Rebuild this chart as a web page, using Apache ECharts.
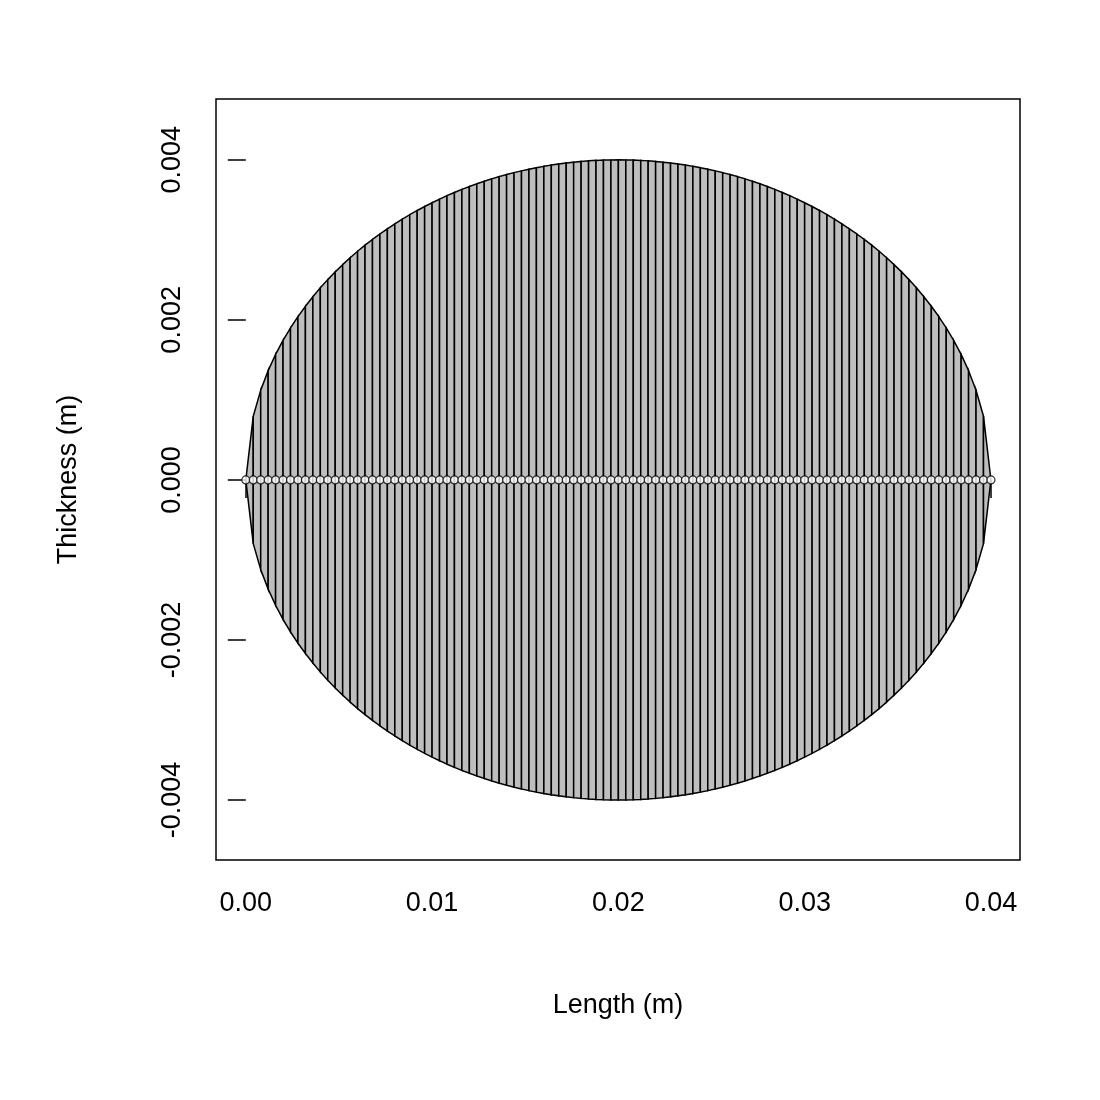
<!DOCTYPE html>
<html><head><meta charset="utf-8">
<script src="https://cdn.jsdelivr.net/npm/echarts@6/dist/echarts.min.js"></script>
<style>html,body{margin:0;background:#fff}#c{width:1100px;height:1100px}</style>
</head><body><div id="c"></div>
<script>
// half thickness (mm) for segment nodes k = 0..50 from center outwards
const halfFromCenter = [4.000,3.999,3.997,3.993,3.987,3.980,3.971,3.961,3.948,3.935,3.919,3.902,3.883,3.862,3.840,3.816,3.790,3.762,3.732,3.700,3.666,3.630,3.592,3.552,3.509,3.464,3.417,3.367,3.314,3.258,3.200,3.138,3.073,3.005,2.933,2.857,2.776,2.690,2.600,2.503,2.400,2.289,2.170,2.041,1.900,1.744,1.568,1.365,1.120,0.796,0.000];
const nodeStep = 0.0004; // m
const xTicks = [0, 0.01, 0.02, 0.03, 0.04];
const yTicks = [-0.004, -0.002, 0, 0.002, 0.004];
const xLabels = ["0.00","0.01","0.02","0.03","0.04"];
const yLabels = ["-0.004","-0.002","0.000","0.002","0.004"];

const half = halfFromCenter.slice().reverse().concat(halfFromCenter.slice(1)).map(v=>v/1000);
const nodeX = half.map((_,i)=>+(i*nodeStep).toFixed(6));
const segs = [];
for (let i=0;i<half.length-1;i++) segs.push([nodeX[i], nodeX[i+1], half[i], half[i+1]]);
const pts = nodeX.map(x=>[x,0]);

const font = 'Liberation Sans, Arial, sans-serif';
const chart = echarts.init(document.getElementById('c'));
chart.setOption({
  animation:false,
  grid:{left:216,right:80,top:99,bottom:240,show:true,borderColor:'#000',borderWidth:1.5,backgroundColor:'transparent'},
  xAxis:{type:'value',min:-0.0016,max:0.04156,
    name:'Length (m)',nameLocation:'middle',nameGap:132,nameTextStyle:{fontSize:27,color:'#000',fontFamily:font},
    axisLine:{show:false},splitLine:{show:false},
    axisTick:{show:true,length:18,inside:false,lineStyle:{color:'#000',width:1.5},customValues:xTicks},
    axisLabel:{fontSize:27,color:'#000',fontFamily:font,margin:30,customValues:xTicks,
      formatter:v=>{const i=xTicks.findIndex(t=>Math.abs(t-v)<1e-9);return i>=0?xLabels[i]:'';}}},
  yAxis:{type:'value',min:-0.00475,max:0.00476,
    name:'Thickness (m)',nameLocation:'middle',nameGap:134,nameRotate:90,nameTextStyle:{fontSize:27,color:'#000',fontFamily:font},
    axisLine:{show:false},splitLine:{show:false},
    axisTick:{show:true,length:18,inside:false,lineStyle:{color:'#000',width:1.5},customValues:yTicks},
    axisLabel:{fontSize:27,color:'#000',fontFamily:font,margin:30,rotate:90,customValues:yTicks,
      formatter:v=>{const i=yTicks.findIndex(t=>Math.abs(t-v)<1e-9);return i>=0?yLabels[i]:'';}}},
  series:[
    {type:'custom',data:segs,silent:true,z:2,
      renderItem:(params,api)=>{
        const x0=api.value(0),x1=api.value(1),h0=api.value(2),h1=api.value(3);
        const p=[api.coord([x0,h0]),api.coord([x1,h1]),api.coord([x1,-h1]),api.coord([x0,-h0])];
        return {type:'polygon',shape:{points:p},style:{fill:'#bebebe',stroke:'#000',lineWidth:1.5}};
      }},
    {type:'scatter',data:pts,symbol:'circle',symbolSize:8,z:3,silent:true,
      itemStyle:{color:'#fff',borderColor:'#000',borderWidth:1.2}}
  ]
});
</script></body></html>
